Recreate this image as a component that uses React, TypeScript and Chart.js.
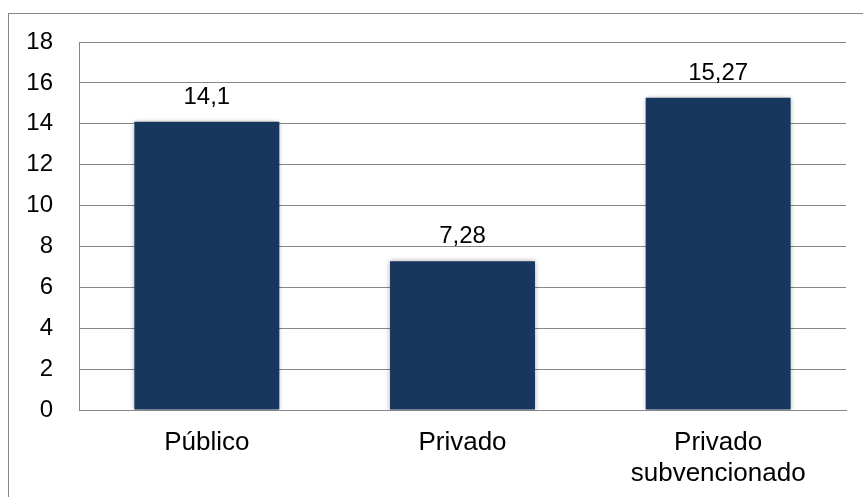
import React, { useEffect, useRef } from "react";
import { Chart, registerables } from "chart.js";

Chart.register(...registerables);

const categories: (string | string[])[] = ["Público", "Privado", ["Privado", "subvencionado"]];
const values: number[] = [14.1, 7.28, 15.27];
const yTicks: number[] = [0, 2, 4, 6, 8, 10, 12, 14, 16, 18];

const FONT = "'Liberation Sans', Arial, sans-serif";
const BAR = "#17375E";
const GRID = "#878787";

const frame = {
  id: "frame",
  beforeDraw(chart: any) {
    const ctx = chart.ctx;
    ctx.save();
    ctx.strokeStyle = GRID;
    ctx.lineWidth = 1;
    ctx.strokeRect(8.5, 13.5, 900, 600);
    ctx.restore();
  },
};

const shadow = {
  id: "barShadow",
  beforeDatasetsDraw(chart: any) {
    const ctx = chart.ctx;
    ctx.save();
    ctx.shadowColor = "rgba(0,0,0,0.35)";
    ctx.shadowBlur = 5;
    ctx.shadowOffsetX = 0;
    ctx.shadowOffsetY = 0;
  },
  afterDatasetsDraw(chart: any) {
    chart.ctx.restore();
  },
};

const valueLabels = {
  id: "valueLabels",
  afterDraw(chart: any) {
    const ctx = chart.ctx;
    const meta = chart.getDatasetMeta(0);
    ctx.save();
    ctx.font = `24px ${FONT}`;
    ctx.fillStyle = "#000";
    ctx.textAlign = "center";
    ctx.textBaseline = "alphabetic";
    meta.data.forEach((bar: any, i: number) => {
      const txt = String(values[i]).replace(".", ",");
      ctx.fillText(txt, bar.x, bar.y - 18);
    });
    ctx.restore();
  },
};

export default function App() {
  const ref = useRef<HTMLCanvasElement | null>(null);
  useEffect(() => {
    if (!ref.current) return;
    const chart = new Chart(ref.current, {
      type: "bar",
      data: {
        labels: categories as any,
        datasets: [
          {
            data: values,
            backgroundColor: BAR,
            borderWidth: 0,
            categoryPercentage: 1,
            barPercentage: 0.567,
          },
        ],
      },
      options: {
        animation: false,
        responsive: false,
        devicePixelRatio: 1,
        layout: { padding: { left: 0, top: 42, right: 17, bottom: 0 } },
        plugins: {
          legend: { display: false },
          tooltip: { enabled: false },
        },
        scales: {
          x: {
            grid: { display: false, drawTicks: false },
            border: { display: true, color: GRID, width: 1 },
            ticks: {
              color: "#000",
              font: { family: FONT, size: 26, lineHeight: 1.19 },
              padding: 17.5,
              maxRotation: 0,
              autoSkip: false,
            },
            afterFit(scale: any) {
              scale.height = 87;
            },
          },
          y: {
            min: 0,
            max: 18,
            afterBuildTicks(scale: any) {
              scale.ticks = yTicks.map((v) => ({ value: v }));
            },
            grid: { color: GRID, drawTicks: false, lineWidth: 1 },
            border: { display: true, color: GRID, width: 1 },
            ticks: {
              color: "#000",
              font: { family: FONT, size: 24 },
              padding: 26,
            },
            afterFit(scale: any) {
              scale.width = 79;
            },
          },
        },
      },
      plugins: [frame, shadow, valueLabels],
    });
    return () => chart.destroy();
  }, []);
  return (
    <canvas
      ref={ref}
      width={863}
      height={497}
      style={{ position: "absolute", left: 0, top: 0, width: 863, height: 497, display: "block" }}
    />
  );
}
